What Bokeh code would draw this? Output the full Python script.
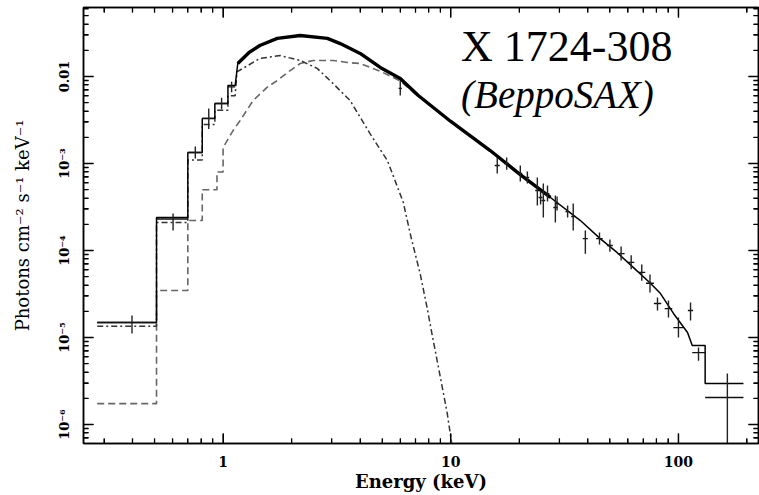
import numpy as np
from bokeh.plotting import figure
from bokeh.models import LogAxis, FixedTicker, CustomJSTickFormatter, Label, Range1d
from bokeh.embed import file_html
from bokeh.resources import INLINE

# ---------------- data ----------------
# total model: low-energy steps, smooth part, high-energy steps
tot_low_lo = [0.28, 0.51, 0.70, 0.81, 0.92, 1.05]
tot_low_hi = [0.51, 0.70, 0.81, 0.92, 1.05, 1.13]
tot_low_f = [1.49e-5, 2.4e-4, 1.34e-3, 3.3e-3, 4.9e-3, 7.9e-3]
tot_E = [1.16, 1.30, 1.45, 1.73, 2.18, 2.87, 3.27, 4.0, 4.9, 6.0, 7.2, 10.0,
         14.9, 20.0, 27.4, 37.1, 45.3, 53.7, 63.3, 75.3, 83.4, 95.1, 109.6]
tot_F = [0.0141, 0.0189, 0.0227, 0.0274, 0.0296, 0.0274, 0.0239, 0.0184, 0.0127,
         0.0095, 0.00605, 0.00304, 1.41e-3, 7.6e-4, 4.07e-4, 2.21e-4, 1.37e-4,
         9.5e-5, 6.4e-5, 4.2e-5, 3.2e-5, 1.89e-5, 1.14e-5]
tot_high_lo = [115.0, 131.0]
tot_high_hi = [131.0, 193.0]
tot_high_f = [8.1e-6, 2.96e-6]

# comptonization component (dashed)
cpt_low_lo = [0.28, 0.51, 0.70, 0.81, 0.94]
cpt_low_hi = [0.51, 0.70, 0.81, 0.94, 1.0]
cpt_low_f = [1.74e-6, 3.47e-5, 2.21e-4, 5.0e-4, 8.0e-4]
cpt_E = [1.0, 1.106, 1.188, 1.355, 1.56, 1.73, 1.97, 2.18, 2.49, 3.04, 3.51, 4.0, 4.9, 6.0, 7.2]
cpt_F = [1.53e-3, 2.39e-3, 3.12e-3, 5.3e-3, 7.5e-3, 9.0e-3, 0.0117, 0.0141, 0.0153,
         0.0153, 0.0145, 0.0141, 0.0115, 0.0089, 0.0059]

# blackbody component (dash-dot)
bb_low_lo = [0.28, 0.51, 0.70, 0.81, 0.92, 1.05]
bb_low_hi = [0.51, 0.70, 0.81, 0.92, 1.05, 1.13]
bb_low_f = [1.35e-5, 2.1e-4, 1.1e-3, 2.8e-3, 4.1e-3, 6.0e-3]
bb_E = [1.15, 1.45, 1.78, 2.18, 2.59, 3.04, 3.61, 4.0, 4.42, 5.27, 6.18, 6.7, 7.34,
        7.87, 8.37, 9.0, 9.65, 10.1]
bb_F = [0.0113, 0.0161, 0.0174, 0.0153, 0.0124, 0.0083, 0.0053, 0.0034, 2.2e-3,
        1.08e-3, 3.6e-4, 1.4e-4, 5.4e-5, 2.2e-5, 9.3e-6, 3.5e-6, 1.34e-6, 6.0e-7]

# data points with error bars
d_E = [0.398, 0.603, 0.755, 0.865, 0.985, 1.09, 6.0, 16.0, 17.6, 20.2, 21.7, 24.0,
       24.8, 25.5, 26.6, 28.8, 29.3, 32.6, 34.5, 39.0, 45.0, 50.0, 56.0, 62.0, 69.0,
       75.0, 80.9, 90.4, 100.0, 113.0, 122.5, 164.0]
d_F = [1.49e-5, 2.3e-4, 1.34e-3, 3.3e-3, 4.9e-3, 7.6e-3, 7.3e-3, 9.5e-4, 1.0e-3,
       7.7e-4, 6.9e-4, 4.9e-4, 4.07e-4, 3.76e-4, 4.5e-4, 3.12e-4, 3.47e-4, 2.8e-4,
       2.46e-4, 1.37e-4, 1.37e-4, 1.14e-4, 9.2e-5, 7.3e-5, 5.6e-5, 4.2e-5, 2.46e-5,
       2.15e-5, 1.3e-5, 2.04e-5, 6.7e-6, 2.04e-6]
d_Flo = [1.11e-5, 1.7e-4, 1.14e-3, 2.5e-3, 4.2e-3, 6.6e-3, 6.05e-3, 7.7e-4, 8.5e-4,
         6.2e-4, 5.9e-4, 3.29e-4, 3.37e-4, 2.39e-4, 3.65e-4, 2.1e-4, 2.88e-4, 2.39e-4,
         1.7e-4, 9.2e-5, 1.17e-4, 9.7e-5, 7.7e-5, 6.1e-5, 4.5e-5, 3.3e-5, 2.04e-5,
         1.7e-5, 1.0e-5, 1.57e-5, 5.4e-6, 1e-7]
d_Fhi = [1.79e-5, 2.66e-4, 1.57e-3, 4.3e-3, 5.7e-3, 8.7e-3, 9.0e-3, 1.17e-3, 1.17e-3,
         9.5e-4, 8.1e-4, 6.9e-4, 4.9e-4, 5.9e-4, 5.6e-4, 4.28e-4, 4.17e-4, 3.29e-4,
         3.47e-4, 1.7e-4, 1.61e-4, 1.34e-4, 1.11e-4, 8.8e-5, 6.9e-5, 5.3e-5, 2.88e-5,
         2.66e-5, 1.7e-5, 2.52e-5, 7.7e-6, 3.86e-6]
d_Elo = [0.28, 0.51, 0.70, 0.81, 0.92, 1.05, 5.9, 15.6, 17.2, 19.8, 21.3, 23.5, 24.3,
         25.0, 26.1, 28.2, 28.7, 31.9, 33.8, 38.0, 43.5, 48.5, 54.0, 60.0, 66.5, 72.0,
         78.0, 87.0, 95.0, 110.0, 115.0, 131.0]
d_Ehi = [0.51, 0.70, 0.81, 0.92, 1.05, 1.13, 6.1, 16.4, 18.0, 20.6, 22.1, 24.5, 25.3,
         26.0, 27.1, 29.4, 29.9, 33.3, 35.2, 40.0, 46.5, 51.5, 58.0, 64.0, 71.5, 78.0,
         84.0, 94.0, 105.0, 116.0, 131.0, 193.0]

# axis ticks
x_tick_values = [1, 10, 100]
x_tick_labels = ["1", "10", "100"]
y_tick_values = [1e-2, 1e-3, 1e-4, 1e-5, 1e-6]
y_tick_labels = ["0.01", "10\u207b\u00b3", "10\u207b\u2074", "10\u207b\u2075", "10\u207b\u2076"]
x_minor = [m * d for d in (0.1, 1, 10, 100) for m in range(2, 10)]
y_minor = [m * d for d in (1e-7, 1e-6, 1e-5, 1e-4, 1e-3, 1e-2) for m in range(2, 10)]

X_LO, X_HI = 0.2437, 224.7
Y_LO, Y_HI = 6.05e-7, 0.0621
PX_PER_DECADE_X = 227.5
PX_PER_DECADE_Y = 87.0


def steps(lo, hi, f):
    xs, ys = [], []
    for a, b, v in zip(lo, hi, f):
        xs += [a, b]
        ys += [v, v]
    return xs, ys


# ---------------- figure ----------------
p = figure(width=759, height=495, x_axis_type="log", y_axis_type="log",
           x_range=Range1d(X_LO, X_HI), y_range=Range1d(Y_LO, Y_HI),
           output_backend="svg", toolbar_location=None,
           min_border_left=83, min_border_right=1, min_border_top=7,
           min_border_bottom=52)
p.background_fill_color = "white"
p.border_fill_color = "white"
p.outline_line_color = "black"
p.outline_line_width = 1.5
p.xgrid.visible = False
p.ygrid.visible = False

fmt_code = """
let best = 0, bd = Infinity;
for (let i = 0; i < vals.length; i++) {
  const d = Math.abs(Math.log10(tick) - Math.log10(vals[i]));
  if (d < bd) { bd = d; best = i; }
}
return labs[best];
"""
xt = FixedTicker(ticks=x_tick_values, minor_ticks=x_minor)
yt = FixedTicker(ticks=y_tick_values, minor_ticks=y_minor)
xf = CustomJSTickFormatter(args=dict(vals=x_tick_values, labs=x_tick_labels), code=fmt_code)
yf = CustomJSTickFormatter(args=dict(vals=y_tick_values, labs=y_tick_labels), code=fmt_code)


def style(ax):
    ax.axis_line_color = "black"
    ax.axis_line_width = 1.5
    ax.major_tick_in = 10
    ax.major_tick_out = 0
    ax.minor_tick_in = 5
    ax.minor_tick_out = 0
    ax.major_tick_line_color = "black"
    ax.minor_tick_line_color = "black"
    ax.major_label_text_font = "DejaVu Serif"
    ax.major_label_text_font_size = "13px"
    ax.major_label_text_font_style = "bold"
    ax.major_label_text_color = "black"
    ax.axis_label_text_font = "DejaVu Serif"
    ax.axis_label_text_color = "black"


xa = p.xaxis[0]
ya = p.yaxis[0]
style(xa)
style(ya)
xa.ticker = xt
xa.formatter = xf
ya.ticker = yt
ya.formatter = yf
xa.axis_label = "Energy (keV)"
ya.axis_label = "Photons cm\u207b\u00b2 s\u207b\u00b9 keV\u207b\u00b9"
xa.major_label_text_font_size = "14px"
xa.axis_label_text_font_size = "18px"
xa.axis_label_text_font_style = "bold"
ya.axis_label_text_font_size = "18px"
ya.axis_label_text_font_style = "normal"
xa.major_label_standoff = 12
xa.axis_label_standoff = 1
ya.major_label_orientation = "vertical"
ya.major_label_standoff = 11
ya.axis_label_standoff = 22

for loc, tk in (("above", xt), ("right", yt)):
    ax = LogAxis(ticker=tk)
    style(ax)
    ax.major_label_text_font_size = "1px"
    ax.major_label_text_color = None
    ax.major_label_standoff = 0
    p.add_layout(ax, loc)

# inward tick marks on all four sides, drawn as short segments through the log scales
kx_maj = 10 ** (10 / PX_PER_DECADE_X)
kx_min = 10 ** (5 / PX_PER_DECADE_X)
ky_maj = 10 ** (10 / PX_PER_DECADE_Y)
ky_min = 10 ** (5 / PX_PER_DECADE_Y)
xmaj = [v for v in x_tick_values if X_LO <= v <= X_HI]
xmin = [v for v in x_minor if X_LO <= v <= X_HI]
ymaj = [v for v in y_tick_values if Y_LO <= v <= Y_HI]
ymin = [v for v in y_minor if Y_LO <= v <= Y_HI]
for vals, k, w in ((xmaj, ky_maj, 1.5), (xmin, ky_min, 1.3)):
    n = len(vals)
    p.segment(x0=vals, y0=[Y_LO] * n, x1=vals, y1=[Y_LO * k] * n, line_color="black", line_width=w)
    p.segment(x0=vals, y0=[Y_HI] * n, x1=vals, y1=[Y_HI / k] * n, line_color="black", line_width=w)
for vals, k, w in ((ymaj, kx_maj, 1.5), (ymin, kx_min, 1.3)):
    n = len(vals)
    p.segment(x0=[X_LO] * n, y0=vals, x1=[X_LO * k] * n, y1=vals, line_color="black", line_width=w)
    p.segment(x0=[X_HI] * n, y0=vals, x1=[X_HI / k] * n, y1=vals, line_color="black", line_width=w)

# comptonization (dashed)
cx, cy = steps(cpt_low_lo, cpt_low_hi, cpt_low_f)
p.line(cx + cpt_E, cy + cpt_F, line_color="#666666", line_width=1.6, line_dash="7 4")

# blackbody (dash-dot)
bx, by = steps(bb_low_lo, bb_low_hi, bb_low_f)
p.line(bx + bb_E, by + bb_F, line_color="#333333", line_width=1.5, line_dash="6 3 2 3")

# total model (solid)
tx, ty = steps(tot_low_lo, tot_low_hi, tot_low_f)
hx, hy = steps(tot_high_lo, tot_high_hi, tot_high_f)
p.line(tx + tot_E + hx, ty + tot_F + hy, line_color="black", line_width=1.5)

# dense data band over the bright part of the spectrum
tE = np.array(tot_E)
tF = np.array(tot_F)
m = (tE >= 1.1) & (tE <= 30)
p.line(tE[m], tF[m], line_color="black", line_width=3.4)

# data crosses
p.segment(x0=d_Elo, y0=d_F, x1=d_Ehi, y1=d_F, line_color="#111111", line_width=1.4)
p.segment(x0=d_E, y0=d_Flo, x1=d_E, y1=d_Fhi, line_color="#222222", line_width=1.4)

# titles
p.add_layout(Label(x=11.1, y=0.0221, text="X 1724-308", text_font="Liberation Serif",
                   text_font_size="44px", text_baseline="alphabetic", text_color="black"))
p.add_layout(Label(x=11.1, y=6.21e-3, text="(BeppoSAX)", text_font="Liberation Serif",
                   text_font_style="italic", text_font_size="39px",
                   text_baseline="alphabetic", text_color="black"))

open("out.html", "w").write(file_html(p, INLINE))
